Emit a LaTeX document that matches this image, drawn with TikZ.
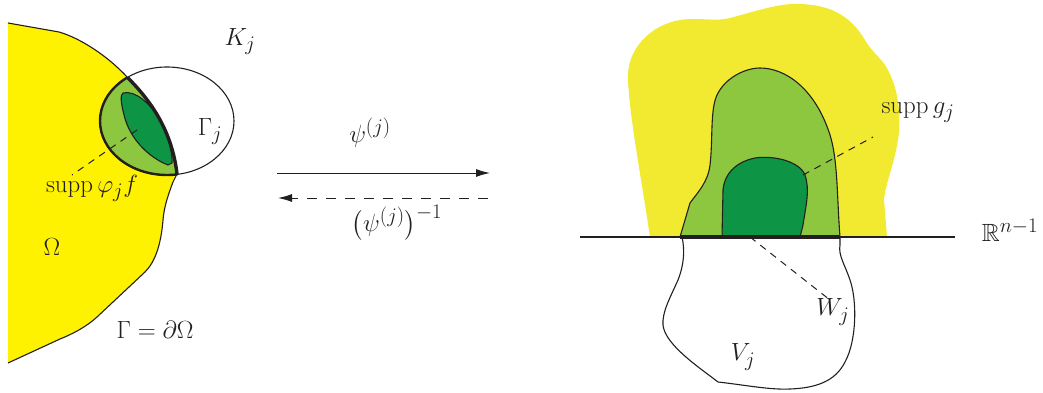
\documentclass[tikz,border=0pt]{standalone}
\usepackage{amsmath,amssymb}
\usetikzlibrary{arrows.meta}
\definecolor{omyellow}{RGB}{255,242,0}
\definecolor{ryellow}{RGB}{242,234,48}
\definecolor{lgreen}{RGB}{141,198,63}
\definecolor{dgreen}{RGB}{13,148,69}
\definecolor{ink}{RGB}{35,31,32}
\tikzset{
  lbl/.style={font=\Huge, text=ink, inner sep=0pt},
  outline/.style={draw=ink, line width=1.1pt, line join=round},
  leader/.style={draw=ink, line width=1pt, dash pattern=on 7pt off 6pt},
  maparrow/.style={draw=ink, line width=1pt, -{Latex[length=14pt,width=8pt]}},
  thickbd/.style={draw=ink, line width=3.4pt, line cap=round},
}
\begin{document}
\begin{tikzpicture}[x=1pt,y=-1pt]
\useasboundingbox (0,0) rectangle (1043,393);

% ---------- left: Omega ----------
\def\OmegaPath{(8,23) -- (59,32) .. controls (80,38) and (108,56) .. (128,78)
  .. controls (150,100) and (172,130) .. (177,174)
  -- (173,182) .. controls (167,198) and (164,208) .. (163,220)
  .. controls (161,245) and (155,262) .. (145,272)
  -- (97,317) .. controls (85,328) and (70,335) .. (60,339)
  -- (8,363) -- cycle}
\fill[omyellow] \OmegaPath;
\draw[outline] (8,23) -- (59,32) .. controls (80,38) and (108,56) .. (128,78);
\draw[outline] (177,174) -- (173,182) .. controls (167,198) and (164,208) .. (163,220)
  .. controls (161,245) and (155,262) .. (145,272)
  -- (97,317) .. controls (85,328) and (70,335) .. (60,339) -- (8,363);

% light green: K_j inside Omega
\begin{scope}
  \clip \OmegaPath;
  \fill[lgreen] (167,121) ellipse [x radius=67, y radius=54];
  \draw[draw=ink, line width=2.4pt] (167,121) ellipse [x radius=67, y radius=54];
\end{scope}
% dark green: supp phi_j f
\fill[dgreen, outline] (123,93) .. controls (135,90) and (150,103) .. (160,120)
  .. controls (168,135) and (173,155) .. (172,163)
  -- (168,165) .. controls (150,158) and (130,140) .. (124,115)
  .. controls (121,103) and (120,95) .. (123,93) -- cycle;
% K_j outline
\draw[outline] (167,121) ellipse [x radius=67, y radius=54];
% Gamma_j
\draw[thickbd] (128,78) .. controls (150,100) and (172,130) .. (177,174);

% labels left
\node[lbl] (Kj) at (240,42) {$K_j$};
\node[lbl] (Gj) at (210,132) {$\Gamma_j$};
\node[lbl] (suppf) at (92,188) {$\operatorname{supp}\varphi_j f$};
\node[lbl] (Om) at (52,247) {$\Omega$};
\node[lbl] (bd) at (155,330) {$\Gamma=\partial\Omega$};
\coordinate (pf) at (137,130);
\coordinate (pfl) at (72,175);
\draw[leader] (pf) -- (pfl);

% ---------- arrows ----------
\coordinate (a1) at (277,173);
\coordinate (a2) at (490,173);
\coordinate (b1) at (488,198);
\coordinate (b2) at (278,198);
\draw[maparrow] (a1) -- (a2);
\draw[maparrow, dash pattern=on 10pt off 9pt] (b1) -- (b2);
\node[lbl] (psi) at (370,133) {$\psi^{(j)}$};
\node[lbl] (psiinv) at (397,223) {$\bigl(\psi^{(j)}\bigr)^{-1}$};

% ---------- right ----------
\fill[ryellow] (650,237) .. controls (640,170) and (630,120) .. (628,80)
  .. controls (626,50) and (650,25) .. (680,20)
  .. controls (700,17) and (715,22) .. (730,18)
  .. controls (760,10) and (780,3) .. (800,4)
  .. controls (830,5) and (850,15) .. (865,40)
  .. controls (872,52) and (878,55) .. (885,65)
  .. controls (898,85) and (902,115) .. (898,140)
  .. controls (894,165) and (885,185) .. (884,200)
  -- (887,237) -- cycle;
\fill[lgreen, outline] (680,237) -- (690,203) .. controls (698,192) and (708,182) .. (710,165)
  .. controls (713,140) and (710,110) .. (717,95)
  .. controls (725,78) and (745,68) .. (760,68)
  .. controls (785,68) and (815,88) .. (830,135)
  .. controls (838,160) and (837,200) .. (840,237) -- cycle;
\fill[dgreen, outline] (722,237) -- (723,190) .. controls (724,175) and (735,162) .. (755,158)
  .. controls (775,155) and (800,162) .. (805,175)
  .. controls (810,190) and (806,205) .. (803,225) -- (800,237) -- cycle;
% V_j
\draw[outline] (682,237) .. controls (685,250) and (684,265) .. (678,280)
  .. controls (670,298) and (662,312) .. (663,325)
  .. controls (665,345) and (700,368) .. (718,382)
  .. controls (745,385) and (770,390) .. (790,389)
  .. controls (815,388) and (835,382) .. (845,362)
  .. controls (857,340) and (857,300) .. (850,280)
  .. controls (845,265) and (838,255) .. (840,245) -- (840,237);
% R^{n-1}
\coordinate (xl) at (580,237);
\coordinate (xr) at (955,237);
\draw[outline] (xl) -- (xr);
\coordinate (w1) at (680,237);
\coordinate (w2) at (840,237);
\draw[draw=ink, line width=3.4pt] (w1) -- (w2);

\node[lbl] (Rn) at (1010,230) {$\mathbb{R}^{n-1}$};
\node[lbl] (suppg) at (918,113) {$\operatorname{supp}g_j$};
\node[lbl] (Wj) at (833,312) {$W_j$};
\node[lbl] (Vj) at (743,357) {$V_j$};
\coordinate (pg) at (803,175);
\coordinate (pgl) at (873,137);
\draw[leader] (pg) -- (pgl);
\coordinate (pw) at (750,237);
\coordinate (pwl) at (830,300);
\draw[leader] (pw) -- (pwl);
\end{tikzpicture}
\end{document}
